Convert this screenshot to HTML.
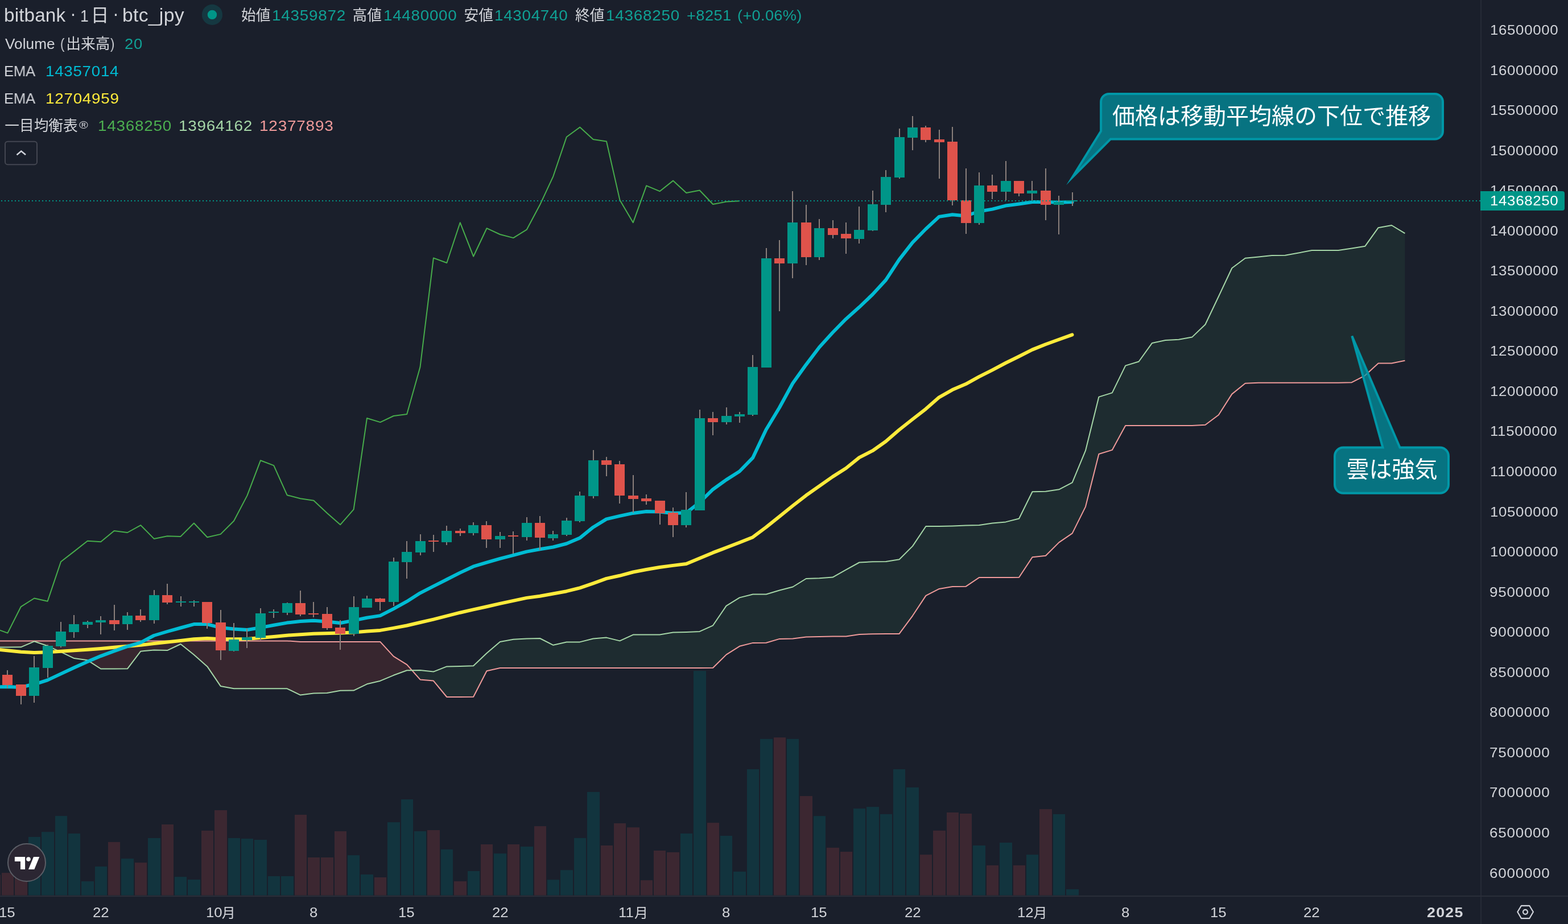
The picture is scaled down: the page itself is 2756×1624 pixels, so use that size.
<!DOCTYPE html>
<html lang="ja"><head><meta charset="utf-8"><title>bitbank btc_jpy 1D</title>
<style>
html,body{margin:0;padding:0;background:#1a1f2b;}
body{width:2756px;height:1624px;position:relative;overflow:hidden;font-family:"Liberation Sans",sans-serif;}
svg{position:absolute;left:0;top:0;}
.t{position:absolute;white-space:pre;transform-origin:0 0;will-change:transform;font-family:"Liberation Sans",sans-serif;}
.h{position:absolute;color:transparent;white-space:pre;overflow:hidden;pointer-events:none;}
svg text{font-family:"Liberation Sans","Noto Sans CJK JP",sans-serif;}
</style></head><body>
<div id="axis-labels">
<span class="t" style="left:7.30px;top:10.27px;font-size:33px;line-height:33px;color:#d2d4d9;letter-spacing:0.120px;transform:scaleX(1.0085);">bitbank</span>
<span class="t" style="left:122.51px;top:6.92px;font-size:33px;line-height:33px;color:#d2d4d9;">·</span>
<span class="t" style="left:141.48px;top:13.23px;font-size:29.5px;line-height:29.5px;color:#d2d4d9;transform:scaleX(0.9000);">1</span>
<span class="t" style="left:198.01px;top:6.92px;font-size:33px;line-height:33px;color:#d2d4d9;">·</span>
<span class="t" style="left:215.43px;top:10.27px;font-size:33px;line-height:33px;color:#d2d4d9;letter-spacing:0.289px;transform:scaleX(1.0211);">btc_jpy</span>
<span class="t" style="left:477.68px;top:13.75px;font-size:26.4px;line-height:26.4px;color:#10a195;letter-spacing:0.711px;transform:scaleX(1.0563);">14359872</span>
<span class="t" style="left:673.58px;top:13.75px;font-size:26.4px;line-height:26.4px;color:#10a195;letter-spacing:0.682px;transform:scaleX(1.0538);">14480000</span>
<span class="t" style="left:869.38px;top:13.75px;font-size:26.4px;line-height:26.4px;color:#10a195;letter-spacing:0.676px;transform:scaleX(1.0533);">14304740</span>
<span class="t" style="left:1064.88px;top:13.75px;font-size:26.4px;line-height:26.4px;color:#10a195;letter-spacing:0.705px;transform:scaleX(1.0557);">14368250</span>
<span class="t" style="left:1206.67px;top:13.75px;font-size:26.4px;line-height:26.4px;color:#10a195;letter-spacing:0.429px;transform:scaleX(1.0302);">+8251</span>
<span class="t" style="left:1296.32px;top:13.75px;font-size:26.4px;line-height:26.4px;color:#10a195;letter-spacing:0.339px;transform:scaleX(1.0285);">(+0.06%)</span>
<span class="t" style="left:8.99px;top:64.09px;font-size:26px;line-height:26px;color:#d2d4d9;letter-spacing:0.082px;transform:scaleX(1.0058);">Volume</span>
<span class="t" style="left:106.44px;top:64.09px;font-size:26px;line-height:26px;color:#d2d4d9;transform:scaleX(0.8414);">(</span>
<span class="t" style="left:194.07px;top:64.09px;font-size:26px;line-height:26px;color:#d2d4d9;transform:scaleX(0.8414);">)</span>
<span class="t" style="left:219.22px;top:63.75px;font-size:26.4px;line-height:26.4px;color:#10a195;letter-spacing:0.821px;transform:scaleX(1.0386);">20</span>
<span class="t" style="left:7.34px;top:111.99px;font-size:26px;line-height:26px;color:#d2d4d9;letter-spacing:-0.275px;transform:scaleX(0.9877);">EMA</span>
<span class="t" style="left:80.18px;top:111.65px;font-size:26.4px;line-height:26.4px;color:#00bcd4;letter-spacing:0.667px;transform:scaleX(1.0524);">14357014</span>
<span class="t" style="left:7.34px;top:159.99px;font-size:26px;line-height:26px;color:#d2d4d9;letter-spacing:-0.275px;transform:scaleX(0.9877);">EMA</span>
<span class="t" style="left:80.18px;top:159.65px;font-size:26.4px;line-height:26.4px;color:#ffeb3b;letter-spacing:0.695px;transform:scaleX(1.0549);">12704959</span>
<span class="t" style="left:139.08px;top:209.92px;font-size:19px;line-height:19px;color:#d2d4d9;transform:scaleX(1.1256);">®</span>
<span class="t" style="left:171.98px;top:207.65px;font-size:26.4px;line-height:26.4px;color:#4caf50;letter-spacing:0.711px;transform:scaleX(1.0562);">14368250</span>
<span class="t" style="left:314.08px;top:207.65px;font-size:26.4px;line-height:26.4px;color:#a5d6a7;letter-spacing:0.711px;transform:scaleX(1.0563);">13964162</span>
<span class="t" style="left:455.87px;top:207.65px;font-size:26.4px;line-height:26.4px;color:#ef9a9a;letter-spacing:0.741px;transform:scaleX(1.0588);">12377893</span>
<span class="t" style="left:2618.63px;top:40.98px;font-size:24.6px;line-height:24.6px;color:#d3d5da;letter-spacing:0.616px;transform:scaleX(1.0520);">16500000</span>
<span class="t" style="left:2618.63px;top:111.53px;font-size:24.6px;line-height:24.6px;color:#d3d5da;letter-spacing:0.616px;transform:scaleX(1.0520);">16000000</span>
<span class="t" style="left:2618.63px;top:182.08px;font-size:24.6px;line-height:24.6px;color:#d3d5da;letter-spacing:0.616px;transform:scaleX(1.0520);">15500000</span>
<span class="t" style="left:2618.63px;top:252.63px;font-size:24.6px;line-height:24.6px;color:#d3d5da;letter-spacing:0.616px;transform:scaleX(1.0520);">15000000</span>
<span class="t" style="left:2618.63px;top:323.18px;font-size:24.6px;line-height:24.6px;color:#d3d5da;letter-spacing:0.616px;transform:scaleX(1.0520);">14500000</span>
<span class="t" style="left:2618.63px;top:393.73px;font-size:24.6px;line-height:24.6px;color:#d3d5da;letter-spacing:0.616px;transform:scaleX(1.0520);">14000000</span>
<span class="t" style="left:2618.63px;top:464.28px;font-size:24.6px;line-height:24.6px;color:#d3d5da;letter-spacing:0.616px;transform:scaleX(1.0520);">13500000</span>
<span class="t" style="left:2618.63px;top:534.83px;font-size:24.6px;line-height:24.6px;color:#d3d5da;letter-spacing:0.616px;transform:scaleX(1.0520);">13000000</span>
<span class="t" style="left:2618.63px;top:605.38px;font-size:24.6px;line-height:24.6px;color:#d3d5da;letter-spacing:0.616px;transform:scaleX(1.0520);">12500000</span>
<span class="t" style="left:2618.63px;top:675.93px;font-size:24.6px;line-height:24.6px;color:#d3d5da;letter-spacing:0.616px;transform:scaleX(1.0520);">12000000</span>
<span class="t" style="left:2618.63px;top:746.48px;font-size:24.6px;line-height:24.6px;color:#d3d5da;letter-spacing:0.616px;transform:scaleX(1.0520);">11500000</span>
<span class="t" style="left:2618.63px;top:817.03px;font-size:24.6px;line-height:24.6px;color:#d3d5da;letter-spacing:0.616px;transform:scaleX(1.0520);">11000000</span>
<span class="t" style="left:2618.63px;top:887.58px;font-size:24.6px;line-height:24.6px;color:#d3d5da;letter-spacing:0.616px;transform:scaleX(1.0520);">10500000</span>
<span class="t" style="left:2618.63px;top:958.13px;font-size:24.6px;line-height:24.6px;color:#d3d5da;letter-spacing:0.616px;transform:scaleX(1.0520);">10000000</span>
<span class="t" style="left:2617.68px;top:1028.68px;font-size:24.6px;line-height:24.6px;color:#d3d5da;letter-spacing:0.698px;transform:scaleX(1.0578);">9500000</span>
<span class="t" style="left:2617.68px;top:1099.23px;font-size:24.6px;line-height:24.6px;color:#d3d5da;letter-spacing:0.698px;transform:scaleX(1.0578);">9000000</span>
<span class="t" style="left:2617.77px;top:1169.78px;font-size:24.6px;line-height:24.6px;color:#d3d5da;letter-spacing:0.692px;transform:scaleX(1.0573);">8500000</span>
<span class="t" style="left:2617.77px;top:1240.33px;font-size:24.6px;line-height:24.6px;color:#d3d5da;letter-spacing:0.692px;transform:scaleX(1.0573);">8000000</span>
<span class="t" style="left:2617.56px;top:1310.88px;font-size:24.6px;line-height:24.6px;color:#d3d5da;letter-spacing:0.705px;transform:scaleX(1.0585);">7500000</span>
<span class="t" style="left:2617.56px;top:1381.43px;font-size:24.6px;line-height:24.6px;color:#d3d5da;letter-spacing:0.705px;transform:scaleX(1.0585);">7000000</span>
<span class="t" style="left:2617.58px;top:1451.98px;font-size:24.6px;line-height:24.6px;color:#d3d5da;letter-spacing:0.704px;transform:scaleX(1.0584);">6500000</span>
<span class="t" style="left:2617.58px;top:1522.53px;font-size:24.6px;line-height:24.6px;color:#d3d5da;letter-spacing:0.704px;transform:scaleX(1.0584);">6000000</span>
</div>
<svg width="2756" height="1624" viewBox="0 0 2756 1624">
<rect x="0" y="1537.5" width="1" height="36" fill="#3c2731"/>
<rect x="3" y="1534.1" width="21" height="39.4" fill="#3c2731"/>
<rect x="26" y="1538.5" width="22" height="35" fill="#3c2731"/>
<rect x="50" y="1471" width="21" height="102.5" fill="#12343e"/>
<rect x="73" y="1462.1" width="22" height="111.4" fill="#12343e"/>
<rect x="97" y="1434.1" width="21" height="139.4" fill="#12343e"/>
<rect x="120" y="1465" width="21" height="108.5" fill="#12343e"/>
<rect x="143" y="1549" width="22" height="24.5" fill="#12343e"/>
<rect x="167" y="1523" width="21" height="50.5" fill="#12343e"/>
<rect x="190" y="1479.9" width="21" height="93.6" fill="#3c2731"/>
<rect x="213" y="1509.1" width="22" height="64.4" fill="#12343e"/>
<rect x="237" y="1516.1" width="21" height="57.4" fill="#3c2731"/>
<rect x="260" y="1473" width="22" height="100.5" fill="#12343e"/>
<rect x="284" y="1449" width="21" height="124.5" fill="#3c2731"/>
<rect x="307" y="1541.1" width="21" height="32.4" fill="#12343e"/>
<rect x="330" y="1546" width="22" height="27.5" fill="#12343e"/>
<rect x="354" y="1459.9" width="21" height="113.6" fill="#3c2731"/>
<rect x="377" y="1424" width="22" height="149.5" fill="#3c2731"/>
<rect x="401" y="1473" width="21" height="100.5" fill="#12343e"/>
<rect x="424" y="1474" width="21" height="99.5" fill="#12343e"/>
<rect x="447" y="1476" width="22" height="97.5" fill="#12343e"/>
<rect x="471" y="1540" width="21" height="33.5" fill="#12343e"/>
<rect x="494" y="1540" width="22" height="33.5" fill="#12343e"/>
<rect x="518" y="1432" width="21" height="141.5" fill="#3c2731"/>
<rect x="541" y="1507" width="21" height="66.5" fill="#3c2731"/>
<rect x="564" y="1507" width="22" height="66.5" fill="#3c2731"/>
<rect x="588" y="1461" width="21" height="112.5" fill="#3c2731"/>
<rect x="611" y="1503.1" width="21" height="70.4" fill="#12343e"/>
<rect x="634" y="1537" width="22" height="36.5" fill="#12343e"/>
<rect x="658" y="1542" width="21" height="31.5" fill="#3c2731"/>
<rect x="681" y="1445.1" width="22" height="128.4" fill="#12343e"/>
<rect x="705" y="1405" width="21" height="168.5" fill="#12343e"/>
<rect x="728" y="1461" width="21" height="112.5" fill="#12343e"/>
<rect x="751" y="1459" width="22" height="114.5" fill="#3c2731"/>
<rect x="775" y="1492.9" width="21" height="80.6" fill="#12343e"/>
<rect x="798" y="1548.9" width="22" height="24.6" fill="#3c2731"/>
<rect x="822" y="1531" width="21" height="42.5" fill="#12343e"/>
<rect x="845" y="1484" width="21" height="89.5" fill="#3c2731"/>
<rect x="868" y="1500.1" width="22" height="73.4" fill="#12343e"/>
<rect x="892" y="1484" width="21" height="89.5" fill="#3c2731"/>
<rect x="915" y="1488" width="22" height="85.5" fill="#12343e"/>
<rect x="939" y="1452.1" width="21" height="121.4" fill="#3c2731"/>
<rect x="962" y="1546.2" width="21" height="27.3" fill="#12343e"/>
<rect x="985" y="1529.2" width="22" height="44.3" fill="#12343e"/>
<rect x="1009" y="1472.9" width="21" height="100.6" fill="#12343e"/>
<rect x="1032" y="1391.9" width="22" height="181.6" fill="#12343e"/>
<rect x="1056" y="1486" width="21" height="87.5" fill="#3c2731"/>
<rect x="1079" y="1447" width="21" height="126.5" fill="#3c2731"/>
<rect x="1102" y="1454.2" width="22" height="119.3" fill="#3c2731"/>
<rect x="1126" y="1547.1" width="21" height="26.4" fill="#3c2731"/>
<rect x="1149" y="1495" width="21" height="78.5" fill="#3c2731"/>
<rect x="1172" y="1497.9" width="22" height="75.6" fill="#3c2731"/>
<rect x="1196" y="1464.9" width="21" height="108.6" fill="#12343e"/>
<rect x="1219" y="1179.1" width="22" height="394.4" fill="#12343e"/>
<rect x="1243" y="1446.1" width="21" height="127.4" fill="#3c2731"/>
<rect x="1266" y="1469" width="21" height="104.5" fill="#12343e"/>
<rect x="1289" y="1531.9" width="22" height="41.6" fill="#12343e"/>
<rect x="1313" y="1352" width="21" height="221.5" fill="#12343e"/>
<rect x="1336" y="1298.7" width="22" height="274.8" fill="#12343e"/>
<rect x="1360" y="1296.1" width="21" height="277.4" fill="#3c2731"/>
<rect x="1383" y="1298.7" width="21" height="274.8" fill="#12343e"/>
<rect x="1406" y="1399.1" width="22" height="174.4" fill="#3c2731"/>
<rect x="1430" y="1434.2" width="21" height="139.3" fill="#12343e"/>
<rect x="1453" y="1489.9" width="22" height="83.6" fill="#3c2731"/>
<rect x="1477" y="1497" width="21" height="76.5" fill="#3c2731"/>
<rect x="1500" y="1421.1" width="21" height="152.4" fill="#12343e"/>
<rect x="1523" y="1418.1" width="22" height="155.4" fill="#12343e"/>
<rect x="1547" y="1430.9" width="21" height="142.6" fill="#12343e"/>
<rect x="1570" y="1352" width="21" height="221.5" fill="#12343e"/>
<rect x="1593" y="1383.9" width="22" height="189.6" fill="#12343e"/>
<rect x="1617" y="1502.1" width="21" height="71.4" fill="#3c2731"/>
<rect x="1640" y="1459.8" width="22" height="113.7" fill="#3c2731"/>
<rect x="1664" y="1428" width="21" height="145.5" fill="#3c2731"/>
<rect x="1687" y="1430" width="21" height="143.5" fill="#3c2731"/>
<rect x="1710" y="1486" width="22" height="87.5" fill="#12343e"/>
<rect x="1734" y="1520.9" width="21" height="52.6" fill="#3c2731"/>
<rect x="1757" y="1481" width="22" height="92.5" fill="#12343e"/>
<rect x="1781" y="1520.9" width="21" height="52.6" fill="#3c2731"/>
<rect x="1804" y="1502.1" width="21" height="71.4" fill="#12343e"/>
<rect x="1827" y="1422.1" width="22" height="151.4" fill="#3c2731"/>
<rect x="1851" y="1431" width="21" height="142.5" fill="#12343e"/>
<rect x="1874" y="1563" width="22" height="10.5" fill="#12343e"/>
<path d="M-12,1137.4L13.4,1137.4L36.8,1137.3L60.2,1127.3L83.6,1135.3L107,1145.8L130.4,1157.1L153.8,1160.3L177.2,1175.5L200.6,1175.5L224,1175.3L247.3,1144.7L270.7,1142.4L294.1,1143.1L317.5,1132L340.9,1150.8L364.3,1171.4L387.7,1205.9L411.1,1210.3L434.5,1210.2L457.9,1210.2L481.2,1210.2L504.6,1210.3L528,1221.6L551.4,1218.6L574.8,1218L598.2,1213.7L621.6,1213.6L645,1202.3L668.4,1196.7L691.8,1186.8L715.2,1178.3L724.1,1178.2L724.1,1178.2L715.2,1168.2L691.8,1153.6L668.4,1128.1L645,1127.9L621.6,1127.9L598.2,1127.9L574.8,1127.9L551.4,1127.9L528,1127.9L504.6,1126.4L481.2,1126.4L457.9,1126.4L434.5,1126.4L411.1,1126.4L387.7,1126.4L364.3,1126.4L340.9,1126.4L317.5,1126.4L294.1,1126.4L270.7,1126.4L247.3,1126.5L224,1126.5L200.6,1126.5L177.2,1126.5L153.8,1126.5L130.4,1126.5L107,1126.5L83.6,1126.5L60.2,1126.5L36.8,1126.5L13.4,1126.5L-12,1126.5Z" fill="#37262f"/>
<path d="M724.1,1178.2L738.5,1178L761.9,1180.5L785.3,1171.4L808.7,1171L832.1,1170.3L855.5,1148L878.9,1127.9L902.3,1123.8L925.7,1122.4L949.1,1122L972.4,1133.8L995.8,1128.5L1019.2,1128.4L1042.6,1122.5L1066,1120.6L1089.4,1126.4L1112.8,1115.6L1136.2,1115.6L1159.6,1115.5L1183,1111.6L1206.3,1111L1229.7,1109.9L1253.1,1099.3L1276.5,1064.9L1299.9,1050.4L1323.3,1044.5L1346.7,1044.5L1370.1,1037.5L1393.5,1031.5L1416.9,1017L1440.2,1016.3L1463.6,1014.6L1487,1001.3L1510.4,988.5L1533.8,987.3L1557.2,986.9L1580.6,983.2L1604,959.9L1627.4,925L1650.8,925L1674.1,924.4L1697.5,923.4L1720.9,922.9L1744.3,919.4L1767.7,917.4L1791.1,911.5L1814.5,864.2L1837.9,863.8L1861.3,860.3L1884.7,848.1L1908,791.9L1931.4,697.6L1954.8,690.4L1978.2,642.6L2001.6,635.5L2025,602.9L2048.4,597.9L2071.8,596.7L2095.2,592.6L2118.5,570.2L2141.9,521L2165.3,471.2L2188.7,453.8L2212.1,451.4L2235.5,448.9L2258.9,448.8L2282.3,444.5L2305.7,440.1L2329.1,440.1L2352.4,440.1L2375.8,436.5L2399.2,432.8L2422.6,400.2L2446,396L2469.4,410.2L2469.4,633.8L2446,638.4L2422.6,638.4L2399.2,660.1L2375.8,672.2L2352.4,672.8L2329.1,672.8L2305.7,672.8L2282.3,672.8L2258.9,672.8L2235.5,672.8L2212.1,672.8L2188.7,673.8L2165.3,692.6L2141.9,729.2L2118.5,746.8L2095.2,747.9L2071.8,747.9L2048.4,747.9L2025,747.9L2001.6,747.9L1978.2,747.9L1954.8,790.9L1931.4,798L1908,890.6L1884.7,937.4L1861.3,953.4L1837.9,976.8L1814.5,979.3L1791.1,1014.8L1767.7,1015.1L1744.3,1015.1L1720.9,1015.1L1697.5,1030.8L1674.1,1030.9L1650.8,1034.9L1627.4,1046.9L1604,1082.3L1580.6,1113.9L1557.2,1114.1L1533.8,1114.3L1510.4,1114.9L1487,1118.5L1463.6,1118.5L1440.2,1118.9L1416.9,1119.5L1393.5,1122.5L1370.1,1122.9L1346.7,1129.8L1323.3,1129.9L1299.9,1135.8L1276.5,1150.6L1253.1,1173.8L1229.7,1173.9L1206.3,1173.9L1183,1173.9L1159.6,1173.9L1136.2,1173.9L1112.8,1174L1089.4,1174L1066,1174L1042.6,1174L1019.2,1174L995.8,1174L972.4,1174L949.1,1173.9L925.7,1173.9L902.3,1174L878.9,1174L855.5,1179.3L832.1,1224.7L808.7,1225L785.3,1225L761.9,1196.6L738.5,1194.4L724.1,1178.2Z" fill="#1e2c30"/>
<path d="M-12,1126.5L13.4,1126.5L36.8,1126.5L60.2,1126.5L83.6,1126.5L107,1126.5L130.4,1126.5L153.8,1126.5L177.2,1126.5L200.6,1126.5L224,1126.5L247.3,1126.5L270.7,1126.4L294.1,1126.4L317.5,1126.4L340.9,1126.4L364.3,1126.4L387.7,1126.4L411.1,1126.4L434.5,1126.4L457.9,1126.4L481.2,1126.4L504.6,1126.4L528,1127.9L551.4,1127.9L574.8,1127.9L598.2,1127.9L621.6,1127.9L645,1127.9L668.4,1128.1L691.8,1153.6L715.2,1168.2L738.5,1194.4L761.9,1196.6L785.3,1225L808.7,1225L832.1,1224.7L855.5,1179.3L878.9,1174L902.3,1174L925.7,1173.9L949.1,1173.9L972.4,1174L995.8,1174L1019.2,1174L1042.6,1174L1066,1174L1089.4,1174L1112.8,1174L1136.2,1173.9L1159.6,1173.9L1183,1173.9L1206.3,1173.9L1229.7,1173.9L1253.1,1173.8L1276.5,1150.6L1299.9,1135.8L1323.3,1129.9L1346.7,1129.8L1370.1,1122.9L1393.5,1122.5L1416.9,1119.5L1440.2,1118.9L1463.6,1118.5L1487,1118.5L1510.4,1114.9L1533.8,1114.3L1557.2,1114.1L1580.6,1113.9L1604,1082.3L1627.4,1046.9L1650.8,1034.9L1674.1,1030.9L1697.5,1030.8L1720.9,1015.1L1744.3,1015.1L1767.7,1015.1L1791.1,1014.8L1814.5,979.3L1837.9,976.8L1861.3,953.4L1884.7,937.4L1908,890.6L1931.4,798L1954.8,790.9L1978.2,747.9L2001.6,747.9L2025,747.9L2048.4,747.9L2071.8,747.9L2095.2,747.9L2118.5,746.8L2141.9,729.2L2165.3,692.6L2188.7,673.8L2212.1,672.8L2235.5,672.8L2258.9,672.8L2282.3,672.8L2305.7,672.8L2329.1,672.8L2352.4,672.8L2375.8,672.2L2399.2,660.1L2422.6,638.4L2446,638.4L2469.4,633.8" fill="none" stroke="#ef9a9a" stroke-width="2" stroke-linejoin="round" />
<path d="M-12,1137.4L13.4,1137.4L36.8,1137.3L60.2,1127.3L83.6,1135.3L107,1145.8L130.4,1157.1L153.8,1160.3L177.2,1175.5L200.6,1175.5L224,1175.3L247.3,1144.7L270.7,1142.4L294.1,1143.1L317.5,1132L340.9,1150.8L364.3,1171.4L387.7,1205.9L411.1,1210.3L434.5,1210.2L457.9,1210.2L481.2,1210.2L504.6,1210.3L528,1221.6L551.4,1218.6L574.8,1218L598.2,1213.7L621.6,1213.6L645,1202.3L668.4,1196.7L691.8,1186.8L715.2,1178.3L738.5,1178L761.9,1180.5L785.3,1171.4L808.7,1171L832.1,1170.3L855.5,1148L878.9,1127.9L902.3,1123.8L925.7,1122.4L949.1,1122L972.4,1133.8L995.8,1128.5L1019.2,1128.4L1042.6,1122.5L1066,1120.6L1089.4,1126.4L1112.8,1115.6L1136.2,1115.6L1159.6,1115.5L1183,1111.6L1206.3,1111L1229.7,1109.9L1253.1,1099.3L1276.5,1064.9L1299.9,1050.4L1323.3,1044.5L1346.7,1044.5L1370.1,1037.5L1393.5,1031.5L1416.9,1017L1440.2,1016.3L1463.6,1014.6L1487,1001.3L1510.4,988.5L1533.8,987.3L1557.2,986.9L1580.6,983.2L1604,959.9L1627.4,925L1650.8,925L1674.1,924.4L1697.5,923.4L1720.9,922.9L1744.3,919.4L1767.7,917.4L1791.1,911.5L1814.5,864.2L1837.9,863.8L1861.3,860.3L1884.7,848.1L1908,791.9L1931.4,697.6L1954.8,690.4L1978.2,642.6L2001.6,635.5L2025,602.9L2048.4,597.9L2071.8,596.7L2095.2,592.6L2118.5,570.2L2141.9,521L2165.3,471.2L2188.7,453.8L2212.1,451.4L2235.5,448.9L2258.9,448.8L2282.3,444.5L2305.7,440.1L2329.1,440.1L2352.4,440.1L2375.8,436.5L2399.2,432.8L2422.6,400.2L2446,396L2469.4,410.2" fill="none" stroke="#a5d6a7" stroke-width="2" stroke-linejoin="round" />
<path d="M-9.9,1104.1L13.4,1112.6L36.8,1066.3L60.2,1051.5L83.6,1056.8L107,987.3L130.4,969.1L153.8,950.8L177.2,952.2L200.6,933L224,936L247.3,923.1L270.7,946.9L294.1,942.3L317.5,942.9L340.9,919.5L364.3,944.3L387.7,938.9L411.1,915.5L434.5,870.9L457.9,809.3L481.2,818.1L504.6,870.2L528,876.3L551.4,879.7L574.8,901.8L598.2,922.2L621.6,895.4L645,735L668.4,742.1L691.8,731L715.2,728L738.5,645L761.9,453.4L785.3,462L808.7,391.2L832.1,450.7L855.5,401.2L878.9,412L902.3,418.1L925.7,403.7L949.1,359.8L972.4,309.8L995.8,240.8L1019.2,223.6L1042.6,245L1066,248.6L1089.4,351.4L1112.8,391.2L1136.2,326.4L1159.6,336.2L1183,317.6L1206.3,339.1L1229.7,334.5L1253.1,359L1276.5,354.6L1299.9,353.3" fill="none" stroke="#47ac4b" stroke-width="2" stroke-linejoin="round" />
<path d="M-5,1141.6L0,1142L36.7,1145.7L60.1,1147.1L83.5,1146.3L106.9,1144.7L130.2,1143.2L153.6,1141.8L177,1140L200.4,1137.8L223.8,1135.8L247.2,1133.8L270.6,1130.9L294,1128.5L317.4,1125.9L340.8,1123.3L364.2,1122.1L387.5,1123.3L410.9,1123.3L434.3,1122.9L457.7,1120.9L481.1,1118.9L504.5,1116.7L551.3,1113.8L598,1112.4L621.4,1111.5L644.8,1109.5L668.2,1107.9L691.6,1103.9L715,1099.5L738.4,1094L761.8,1088.6L785.2,1082.7L808.6,1076.7L831.9,1071.4L855.3,1066.2L878.7,1060.8L902.1,1055.9L925.5,1050.9L948.9,1047.7L972.3,1043.5L995.7,1039.2L1019.1,1033.3L1042.5,1025.3L1065.8,1016.9L1089.2,1011.8L1112.6,1005.5L1136,1001L1159.4,997L1182.8,993.9L1206.2,991.1L1229.6,981.3L1253,971.4L1276.4,962.5L1299.8,953.5L1323.1,944.2L1346.5,926.7L1369.9,907.9L1393.3,889L1416.7,870.8L1463.5,837.9L1486.9,823L1510.3,804.1L1533.7,792.2L1557,775.7L1580.4,755.5L1603.8,737L1627.2,718.8L1650.6,698.3L1674,685.1L1697.4,675.1L1720.8,662.2L1744.2,650.3L1767.5,638L1790.9,626.5L1814.3,614.6L1837.7,605.3L1861.1,596.7L1884.5,588.4" fill="none" stroke="#ffeb3b" stroke-width="6" stroke-linejoin="round" stroke-linecap="round"/>
<path d="M-5,1207.3L0,1207.3L13.3,1206.9L36.7,1208L69.5,1199.9L83.5,1195.4L106.9,1184.4L130.2,1173.5L153.6,1163L177,1153.1L200.4,1144.4L223.8,1136.2L247.2,1129.3L270.6,1117L294,1110L317.4,1103.5L340.8,1097.1L364.2,1097.1L387.5,1103.1L410.9,1105.4L434.3,1107L457.7,1103.1L481.1,1098.8L504.5,1094.6L527.9,1092L551.3,1090.8L574.7,1092.6L598,1095L621.4,1090.6L644.8,1085.7L668.2,1082.1L691.6,1070.1L715,1057.2L738.4,1042.3L761.8,1030.4L785.2,1018.5L808.6,1006.6L831.9,995.7L855.3,988.7L878.7,981.8L902.1,975.8L925.5,969.6L948.9,965.2L972.3,961.5L995.7,955.5L1019.1,945.6L1042.5,926.7L1065.8,912.4L1089.2,906.9L1112.6,901.9L1136,898.9L1159.4,899.5L1182.8,901.9L1206.2,901.3L1229.6,883.1L1253,860.2L1276.4,843.4L1299.8,828.5L1323.1,804.7L1346.5,755.2L1369.9,716.5L1393.3,673.8L1416.7,641.1L1440.1,610.3L1463.5,584.5L1486.9,560.7L1510.3,539.8L1533.7,517.5L1557,492.1L1580.4,456.4L1603.8,426.4L1627.2,402.5L1650.6,380.9L1674,377.2L1697.4,379.5L1720.8,371.5L1744.2,367.6L1767.5,361.6L1790.9,358.6L1814.3,355.1L1837.7,355.1L1861.1,355.7L1884.5,355.1" fill="none" stroke="#00bcd4" stroke-width="6" stroke-linejoin="round" stroke-linecap="round"/>
<path d="M12,1178h2V1210h-2ZM36,1203h2V1238h-2ZM59,1153h2V1235h-2ZM83,1133h2V1191h-2ZM106,1093h2V1138h-2ZM129,1081h2V1121h-2ZM153,1091h2V1104h-2ZM176,1083h2V1115h-2ZM200,1063h2V1108h-2ZM223,1076h2V1107h-2ZM246,1071h2V1093h-2ZM270,1037h2V1096h-2ZM293,1026h2V1062h-2ZM317,1048h2V1066h-2ZM340,1055h2V1066h-2ZM363,1058h2V1105h-2ZM387,1072h2V1160h-2ZM410,1095h2V1145h-2ZM433,1105h2V1139h-2ZM457,1069h2V1125h-2ZM480,1071h2V1086h-2ZM504,1059h2V1081h-2ZM527,1038h2V1083h-2ZM550,1058h2V1085h-2ZM574,1067h2V1107h-2ZM597,1090h2V1142h-2ZM621,1048h2V1118h-2ZM644,1047h2V1068h-2ZM667,1051h2V1073h-2ZM691,980h2V1065h-2ZM714,951h2V1017h-2ZM738,939h2V976h-2ZM761,940h2V970h-2ZM784,924h2V958h-2ZM808,929h2V942h-2ZM831,918h2V941h-2ZM854,916h2V963h-2ZM878,935h2V963h-2ZM901,934h2V973h-2ZM925,909h2V950h-2ZM948,907h2V967h-2ZM971,933h2V950h-2ZM995,910h2V942h-2ZM1018,864h2V918h-2ZM1042,791h2V876h-2ZM1065,803h2V837h-2ZM1088,810h2V885h-2ZM1112,835h2V901h-2ZM1135,869h2V887h-2ZM1159,880h2V922h-2ZM1182,892h2V944h-2ZM1205,865h2V927h-2ZM1229,720h2V897h-2ZM1252,724h2V765h-2ZM1276,716h2V746h-2ZM1299,724h2V743h-2ZM1322,624h2V731h-2ZM1346,436h2V646h-2ZM1369,422h2V547h-2ZM1392,336h2V489h-2ZM1416,360h2V466h-2ZM1439,385h2V457h-2ZM1463,387h2V419h-2ZM1486,391h2V446h-2ZM1509,363h2V428h-2ZM1533,335h2V406h-2ZM1556,299h2V373h-2ZM1580,226h2V314h-2ZM1603,204h2V264h-2ZM1626,221h2V250h-2ZM1650,228h2V314h-2ZM1673,223h2V361h-2ZM1697,296h2V411h-2ZM1720,303h2V395h-2ZM1743,307h2V350h-2ZM1767,283h2V352h-2ZM1790,318h2V345h-2ZM1813,318h2V352h-2ZM1837,296h2V387h-2ZM1860,344h2V412h-2ZM1884,338h2V362h-2Z" fill="#8a7f7b"/>
<path d="M51,1173h18V1223h-18ZM75,1135h18V1174h-18ZM98,1110h18V1136h-18ZM121,1097h18V1111h-18ZM145,1093h18V1098h-18ZM168,1090h18V1094h-18ZM215,1082h18V1097h-18ZM262,1046h18V1090h-18ZM309,1057h18V1059h-18ZM332,1057h18V1059h-18ZM402,1124h18V1144h-18ZM425,1120h18V1125h-18ZM449,1078h18V1121h-18ZM472,1075h18V1077h-18ZM496,1060h18V1077h-18ZM613,1067h18V1114h-18ZM636,1052h18V1068h-18ZM683,987h18V1058h-18ZM706,970h18V988h-18ZM730,951h18V971h-18ZM776,933h18V953h-18ZM823,923h18V937h-18ZM870,942h18V948h-18ZM917,919h18V944h-18ZM963,939h18V946h-18ZM987,915h18V940h-18ZM1010,871h18V916h-18ZM1034,809h18V872h-18ZM1197,896h18V923h-18ZM1221,735h18V897h-18ZM1268,731h18V742h-18ZM1291,728h18V732h-18ZM1314,645h18V729h-18ZM1338,454h18V646h-18ZM1384,391h18V463h-18ZM1431,401h18V452h-18ZM1501,404h18V420h-18ZM1525,359h18V405h-18ZM1548,311h18V360h-18ZM1572,241h18V312h-18ZM1595,224h18V242h-18ZM1712,326h18V392h-18ZM1759,318h18V337h-18ZM1805,335h18V340h-18ZM1852,355h18V360h-18ZM1876,352h18V354h-18Z" fill="#009688"/>
<path d="M4,1186h18V1204h-18ZM28,1203h18V1223h-18ZM192,1090h18V1097h-18ZM238,1082h18V1090h-18ZM285,1046h18V1059h-18ZM355,1058h18V1095h-18ZM379,1094h18V1143h-18ZM519,1060h18V1080h-18ZM542,1078h18V1080h-18ZM566,1079h18V1104h-18ZM589,1103h18V1114h-18ZM659,1052h18V1058h-18ZM753,950h18V952h-18ZM800,933h18V937h-18ZM846,923h18V948h-18ZM893,941h18V943h-18ZM940,919h18V945h-18ZM1057,809h18V817h-18ZM1080,816h18V871h-18ZM1104,871h18V877h-18ZM1127,876h18V881h-18ZM1151,880h18V902h-18ZM1174,901h18V923h-18ZM1244,735h18V742h-18ZM1361,454h18V463h-18ZM1408,391h18V452h-18ZM1455,401h18V413h-18ZM1478,411h18V419h-18ZM1618,224h18V246h-18ZM1642,245h18V250h-18ZM1665,249h18V352h-18ZM1689,352h18V392h-18ZM1735,326h18V337h-18ZM1782,318h18V340h-18ZM1829,335h18V360h-18Z" fill="#df534b"/>
<path d="M2,353H2602" stroke="#009688" stroke-width="2" stroke-dasharray="2 4" fill="none"/>
<rect x="2602" y="0" width="2" height="1624" fill="#262b37"/>
<rect x="0" y="1574" width="2756" height="2" fill="#2a2e39"/>
<path d="M2602,336H2746a4,4 0 0 1 4,4V366a4,4 0 0 1 -4,4H2602Z" fill="#009688"/>
<path d="M1949.1,165.1H2522A14,14 0 0 1 2536,179.1V230.4A14,14 0 0 1 2522,244.4H1952L1884.9,311.5L1935.1,230.5V179.1A14,14 0 0 1 1949.1,165.1Z" fill="rgba(0,151,167,0.7)" stroke="#0097a7" stroke-width="4" stroke-linejoin="miter" stroke-miterlimit="10"/>
<path d="M2361,786.6H2430.5L2376.3,590.5L2460.5,786.6H2531A15,15 0 0 1 2546,801.6V851.7A15,15 0 0 1 2531,866.7H2361A15,15 0 0 1 2346,851.7V801.6A15,15 0 0 1 2361,786.6Z" fill="rgba(0,151,167,0.7)" stroke="#0097a7" stroke-width="4" stroke-linejoin="miter" stroke-miterlimit="10"/>
<text x="1955" y="218" font-size="40" fill="#fff">価格は移動平均線の下位で推移</text>
<text x="2366.5" y="839" font-size="40" fill="#fff">雲は強気</text>
<circle cx="47" cy="1516" r="33" fill="#2b2632" stroke="#5b5e66" stroke-width="2"/>
<path d="M25.9,1506H44.1V1528H36V1514.1H25.9Z M59,1506H69.3L60.3,1528H50Z" fill="#fff"/><circle cx="50" cy="1510.1" r="3.8" fill="#fff"/>
<rect x="9" y="248.7" width="56" height="40.5" rx="4.5" fill="none" stroke="#434651" stroke-width="2"/>
<path d="M29.5,272.3L37.3,265.6L45,272.1" fill="none" stroke="#d1d4dc" stroke-width="2.6"/>
<circle cx="372.95" cy="25.9" r="18.1" fill="#153841"/><circle cx="372.95" cy="25.9" r="8.2" fill="#009688"/>
<path d="M2667.3,1602.8L2674,1591.8H2688.2L2694.9,1602.8L2688.2,1614.2H2674Z" fill="none" stroke="#d1d4dc" stroke-width="2.2" stroke-linejoin="round"/><circle cx="2681" cy="1602.8" r="4" fill="none" stroke="#d1d4dc" stroke-width="2.2"/>
<text x="159.4" y="38" font-size="32" fill="#d2d4d9">日</text>
<text x="424" y="35.6" font-size="25.7" fill="#d2d4d9">始値</text>
<text x="619.5" y="35.6" font-size="25.7" fill="#d2d4d9">高値</text>
<text x="815.5" y="35.6" font-size="25.7" fill="#d2d4d9">安値</text>
<text x="1011" y="35.6" font-size="25.7" fill="#d2d4d9">終値</text>
<text x="116.3" y="85.6" font-size="25.7" fill="#d2d4d9">出来高</text>
<text x="8.3" y="229.5" font-size="25.7" fill="#d2d4d9">一目均衡表</text>
<text x="389.8" y="1612.7" font-size="24" fill="#d3d5da">月</text>
<text x="1114.9" y="1612.7" font-size="24" fill="#d3d5da">月</text>
<text x="1816.6" y="1612.7" font-size="24" fill="#d3d5da">月</text>
</svg>
<div id="overlay-labels">
<span class="t" style="left:2618.93px;top:340.68px;font-size:24.6px;line-height:24.6px;color:#ffffff;letter-spacing:0.622px;transform:scaleX(1.0525);">14368250</span>
<span class="t" style="left:-1.57px;top:1592.18px;font-size:24.6px;line-height:24.6px;color:#d3d5da;transform:scaleX(1.0500);">15</span>
<span class="t" style="left:162.81px;top:1592.18px;font-size:24.6px;line-height:24.6px;color:#d3d5da;transform:scaleX(1.0500);">22</span>
<span class="t" style="left:361.52px;top:1592.18px;font-size:24.6px;line-height:24.6px;color:#d3d5da;transform:scaleX(1.0500);">10</span>
<span class="t" style="left:544.24px;top:1592.18px;font-size:24.6px;line-height:24.6px;color:#d3d5da;transform:scaleX(1.0500);">8</span>
<span class="t" style="left:700.34px;top:1592.18px;font-size:24.6px;line-height:24.6px;color:#d3d5da;transform:scaleX(1.0500);">15</span>
<span class="t" style="left:864.51px;top:1592.18px;font-size:24.6px;line-height:24.6px;color:#d3d5da;transform:scaleX(1.0500);">22</span>
<span class="t" style="left:1086.61px;top:1592.18px;font-size:24.6px;line-height:24.6px;color:#d3d5da;transform:scaleX(1.0500);">11</span>
<span class="t" style="left:1269.33px;top:1592.18px;font-size:24.6px;line-height:24.6px;color:#d3d5da;transform:scaleX(1.0500);">8</span>
<span class="t" style="left:1425.43px;top:1592.18px;font-size:24.6px;line-height:24.6px;color:#d3d5da;transform:scaleX(1.0500);">15</span>
<span class="t" style="left:1589.60px;top:1592.18px;font-size:24.6px;line-height:24.6px;color:#d3d5da;transform:scaleX(1.0500);">22</span>
<span class="t" style="left:1788.31px;top:1592.18px;font-size:24.6px;line-height:24.6px;color:#d3d5da;transform:scaleX(1.0500);">12</span>
<span class="t" style="left:1971.03px;top:1592.18px;font-size:24.6px;line-height:24.6px;color:#d3d5da;transform:scaleX(1.0500);">8</span>
<span class="t" style="left:2127.13px;top:1592.18px;font-size:24.6px;line-height:24.6px;color:#d3d5da;transform:scaleX(1.0500);">15</span>
<span class="t" style="left:2291.30px;top:1592.18px;font-size:24.6px;line-height:24.6px;color:#d3d5da;transform:scaleX(1.0500);">22</span>
<span class="t" style="left:2507.87px;top:1592.18px;font-size:24.6px;line-height:24.6px;color:#d3d5da;font-weight:bold;letter-spacing:1.174px;transform:scaleX(1.0880);">2025</span>
</div>
<div id="cjk-text">
</div>
</body></html>
